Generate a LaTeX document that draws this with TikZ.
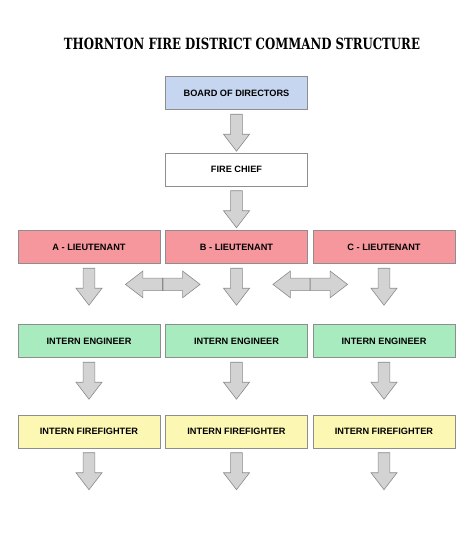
\documentclass[tikz,border=0pt]{standalone}
\usepackage{fontspec}
\setmainfont{Liberation Sans}
\newfontfamily\titlefont{DejaVu Serif}
\usetikzlibrary{positioning,shapes.arrows,calc}

\definecolor{boardblue}{HTML}{C6D6F0}
\definecolor{ltred}{HTML}{F5979C}
\definecolor{enggreen}{HTML}{A8EBBF}
\definecolor{ffyellow}{HTML}{FCF8B4}
\definecolor{boxgray}{HTML}{8E8E8E}
\definecolor{arrowgray}{HTML}{8A8A8A}
\definecolor{arrowfill}{HTML}{D3D3D3}

\begin{document}
\begin{tikzpicture}[x=1pt,y=-1pt]
\tikzstyle{every node}=[font=\fontsize{9.2}{11}\selectfont\bfseries]
\tikzstyle{rank}=[draw=boxgray, line width=0.8pt, minimum width=142pt, minimum height=33pt, inner sep=0pt]
\tikzstyle{blockarrow}=[single arrow, draw=arrowgray, fill=arrowfill, line width=0.6pt, inner sep=0pt, single arrow tip angle=75]
\tikzstyle{down}=[blockarrow, shape border rotate=270, minimum height=37pt, minimum width=26pt, inner xsep=5.5pt, anchor=tail]
\tikzstyle{side}=[blockarrow, minimum height=37pt, minimum width=25pt, inner ysep=6pt, anchor=tail]
\useasboundingbox[fill=white] (0,0) rectangle (474,535);

\node (title) at (242,44) {\resizebox{356pt}{11.5pt}{\titlefont\bfseries THORNTON FIRE DISTRICT COMMAND STRUCTURE}};

% boxes
\node[rank, fill=boardblue] (board) at (236.5,93) {BOARD OF DIRECTORS};
\node[rank, fill=white] (chief) at (236.5,169.5) {FIRE CHIEF};
\node[rank, fill=ltred] (lta) at (89,247) {A - LIEUTENANT};
\node[rank, fill=ltred] (ltb) at (236.5,247) {B - LIEUTENANT};
\node[rank, fill=ltred] (ltc) at (384,247) {C - LIEUTENANT};
\node[rank, fill=enggreen] (enga) at (89,341) {INTERN ENGINEER};
\node[rank, fill=enggreen] (engb) at (236.5,341) {INTERN ENGINEER};
\node[rank, fill=enggreen] (engc) at (384,341) {INTERN ENGINEER};
\node[rank, fill=ffyellow] (ffa) at (89,431.5) {INTERN FIREFIGHTER};
\node[rank, fill=ffyellow] (ffb) at (236.5,431.5) {INTERN FIREFIGHTER};
\node[rank, fill=ffyellow] (ffc) at (384,431.5) {INTERN FIREFIGHTER};

% arrows down
\node[down] (dnboard) at ($(board.south)+(0,4)$) {};
\node[down] (dnchief) at ($(chief.south)+(0,4)$) {};
\foreach \n in {lta,ltb,ltc,enga,engb,engc,ffa,ffb,ffc}
  \node[down] (dn\n) at ($(\n.south)+(0,4)$) {};

% arrows between lieutenants
\coordinate (ab) at ($(lta.east)!0.5!(ltb.west)$);
\coordinate (bc) at ($(ltb.east)!0.5!(ltc.west)$);
\node[side, shape border rotate=180] (abl) at ($(ab |- dnltb.center)+(0,1.5)$) {};
\node[side] (abr) at ($(ab |- dnltb.center)+(0,1.5)$) {};
\node[side, shape border rotate=180] (bcl) at ($(bc |- dnltb.center)+(0,1.5)$) {};
\node[side] (bcr) at ($(bc |- dnltb.center)+(0,1.5)$) {};
\end{tikzpicture}
\end{document}
